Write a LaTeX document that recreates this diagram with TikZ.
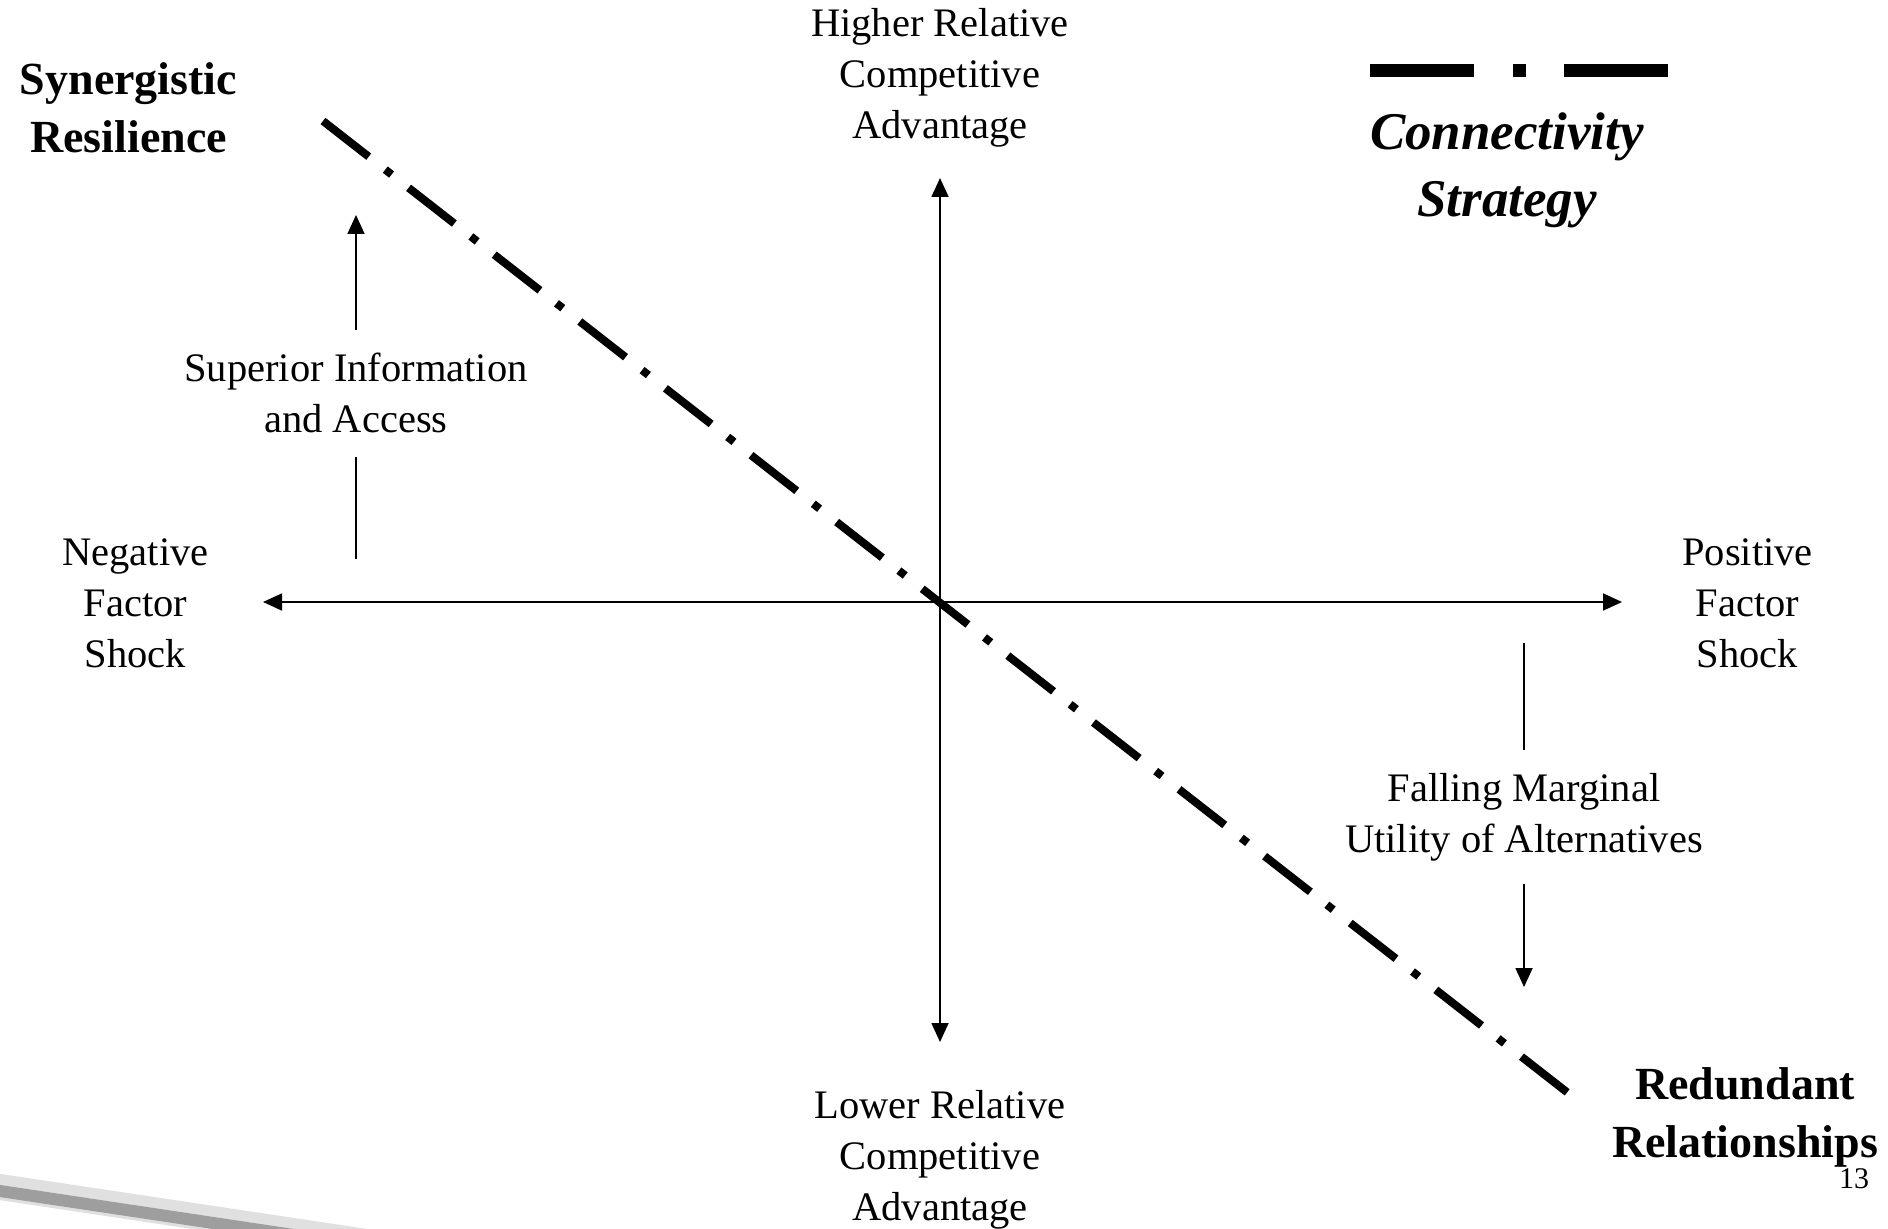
\documentclass[tikz,border=0pt]{standalone}
\usepackage{fontspec}
\setmainfont{Liberation Serif}
\usetikzlibrary{arrows.meta}

\tikzset{
  axis/.style={line width=0.9pt},
  txt/.style={align=center,anchor=base,inner sep=0pt,font=\fontsize{20.25pt}{25.5pt}\selectfont},
  heading/.style={align=center,anchor=base,inner sep=0pt,font=\fontsize{23pt}{29pt}\selectfont\bfseries},
  legendtxt/.style={align=center,anchor=base,inner sep=0pt,font=\fontsize{26.5pt}{33.5pt}\selectfont\bfseries\itshape},
  strategy/.style={line width=4pt,dash pattern=on 29pt off 10.5pt on 4pt off 10.8pt}
}

\begin{document}
\begin{tikzpicture}[x=0.5pt,y=-0.5pt,>={Triangle[width=8.5pt,length=9.5pt]}]
  \useasboundingbox (0,0) rectangle (1888,1229);
  \fill[white] (0,0) rectangle (1888,1229);

  % slide background streak
  \draw[black!12,line width=13pt] (-20,1184) -- (380,1244);
  \draw[black!38,line width=6pt] (-20,1188) -- (380,1248);

  \coordinate (O) at (940,602);
  \coordinate (W) at (263,602);
  \coordinate (E) at (1622,602);
  \coordinate (N) at (940,178);
  \coordinate (S) at (940,1042);

  % axes
  \draw[axis,<->] (W) -- (E);
  \draw[axis,<->] (S) -- (N);

  % connectivity strategy line
  \coordinate (A) at (323,121);
  \coordinate (B) at (1568,1093);
  \draw[strategy] (A) -- (B);

  % legend
  \coordinate (L1) at (1370,70.5);
  \coordinate (L2) at (1668,70.5);
  \draw[line width=6.5pt,dash pattern=on 52pt off 19.5pt on 6.5pt off 19pt] (L1) -- (L2);

  % base = baseline of the last line
  \node[txt] (higher) at (940,139) {Higher Relative\\Competitive\\Advantage};
  \node[txt] (lower) at (940,1220) {Lower Relative\\Competitive\\Advantage};
  \node[txt] (neg) at (135.5,667) {Negative\\Factor\\Shock};
  \node[txt] (pos) at (1747.5,667) {Positive\\Factor\\Shock};
  \node[txt,inner ysep=11.5pt] (info) at (356,433) {Superior Information\\and Access};
  \node[txt,inner ysep=11.5pt] (fall) at (1524,852) {Falling Marginal\\Utility of Alternatives};

  \node[heading] (syn) at (128.5,153) {Synergistic\\Resilience};
  \node[heading] (red) at (1745,1157) {Redundant\\Relationships};
  \node[legendtxt] (conn) at (1507,217) {Connectivity\\Strategy};
  \node[anchor=base,inner sep=0pt,font=\fontsize{15pt}{18pt}\selectfont] (page) at (1854,1188) {13};

  % side arrows
  \coordinate (infoFoot) at (356,559);
  \coordinate (infoTip) at (356,215);
  \draw[axis] (infoFoot) -- (info);
  \draw[axis,->] (info) -- (infoTip);

  \coordinate (fallTop) at (1524,643);
  \coordinate (fallTip) at (1524,987);
  \draw[axis] (fallTop) -- (fall);
  \draw[axis,->] (fall) -- (fallTip);
\end{tikzpicture}
\end{document}
